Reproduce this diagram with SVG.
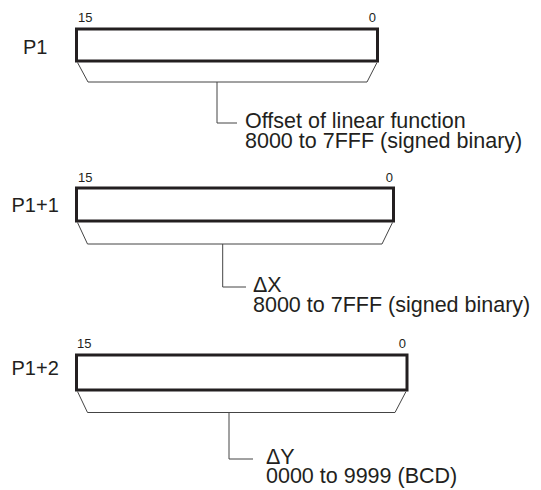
<svg xmlns="http://www.w3.org/2000/svg" width="541" height="490" viewBox="0 0 541 490">
<style>
text{font-family:"Liberation Sans",Arial,sans-serif;fill:#231f20}
.lbl{font-size:20px}
.bit{font-size:13px}
.desc{font-size:21.5px}
.box{fill:#fff;stroke:#231f20;stroke-width:3}
.thin{fill:none;stroke:#444;stroke-width:1}
</style>
<rect width="541" height="490" fill="#fff"/>
<g id="word1">
<text class="lbl" x="23" y="54">P1</text>
<text class="bit" x="78" y="21.5">15</text>
<text class="bit" x="376" y="21.5" text-anchor="end">0</text>
<rect class="box" x="76.5" y="29" width="301" height="32"/>
</g>
<g id="word2">
<text class="lbl" x="11.5" y="212">P1+1</text>
<text class="bit" x="78" y="181.5">15</text>
<text class="bit" x="393" y="181.5" text-anchor="end">0</text>
<rect class="box" x="76.5" y="188" width="317" height="33"/>
</g>
<g id="word3">
<text class="lbl" x="11.5" y="375">P1+2</text>
<text class="bit" x="77" y="348">15</text>
<text class="bit" x="406" y="348" text-anchor="end">0</text>
<rect class="box" x="76.5" y="355" width="330.5" height="35"/>
</g>
<g id="connectors">
<path class="thin" d="M77.5 62.5 L88 82 L367 82 L377 62.5 M217 82 V123 H237"/>
<path class="thin" d="M77.5 222.5 L87.5 244 L382 244 L392.5 222.5 M222.7 244 V287 H246"/>
<path class="thin" d="M77.5 391.5 L87.5 412.5 L395 412.5 L406 391.5 M229 412.5 V459 H253"/>
</g>
<g id="desc1">
<text class="desc" x="245" y="128">Offset of linear function</text>
<text class="desc" x="245" y="148">8000 to 7FFF (signed binary)</text>
</g>
<g id="desc2">
<text class="desc" x="253" y="292">ΔX</text>
<text class="desc" x="253" y="312">8000 to 7FFF (signed binary)</text>
</g>
<g id="desc3">
<text class="desc" x="266" y="464">ΔY</text>
<text class="desc" x="266" y="483">0000 to 9999 (BCD)</text>
</g>
</svg>
